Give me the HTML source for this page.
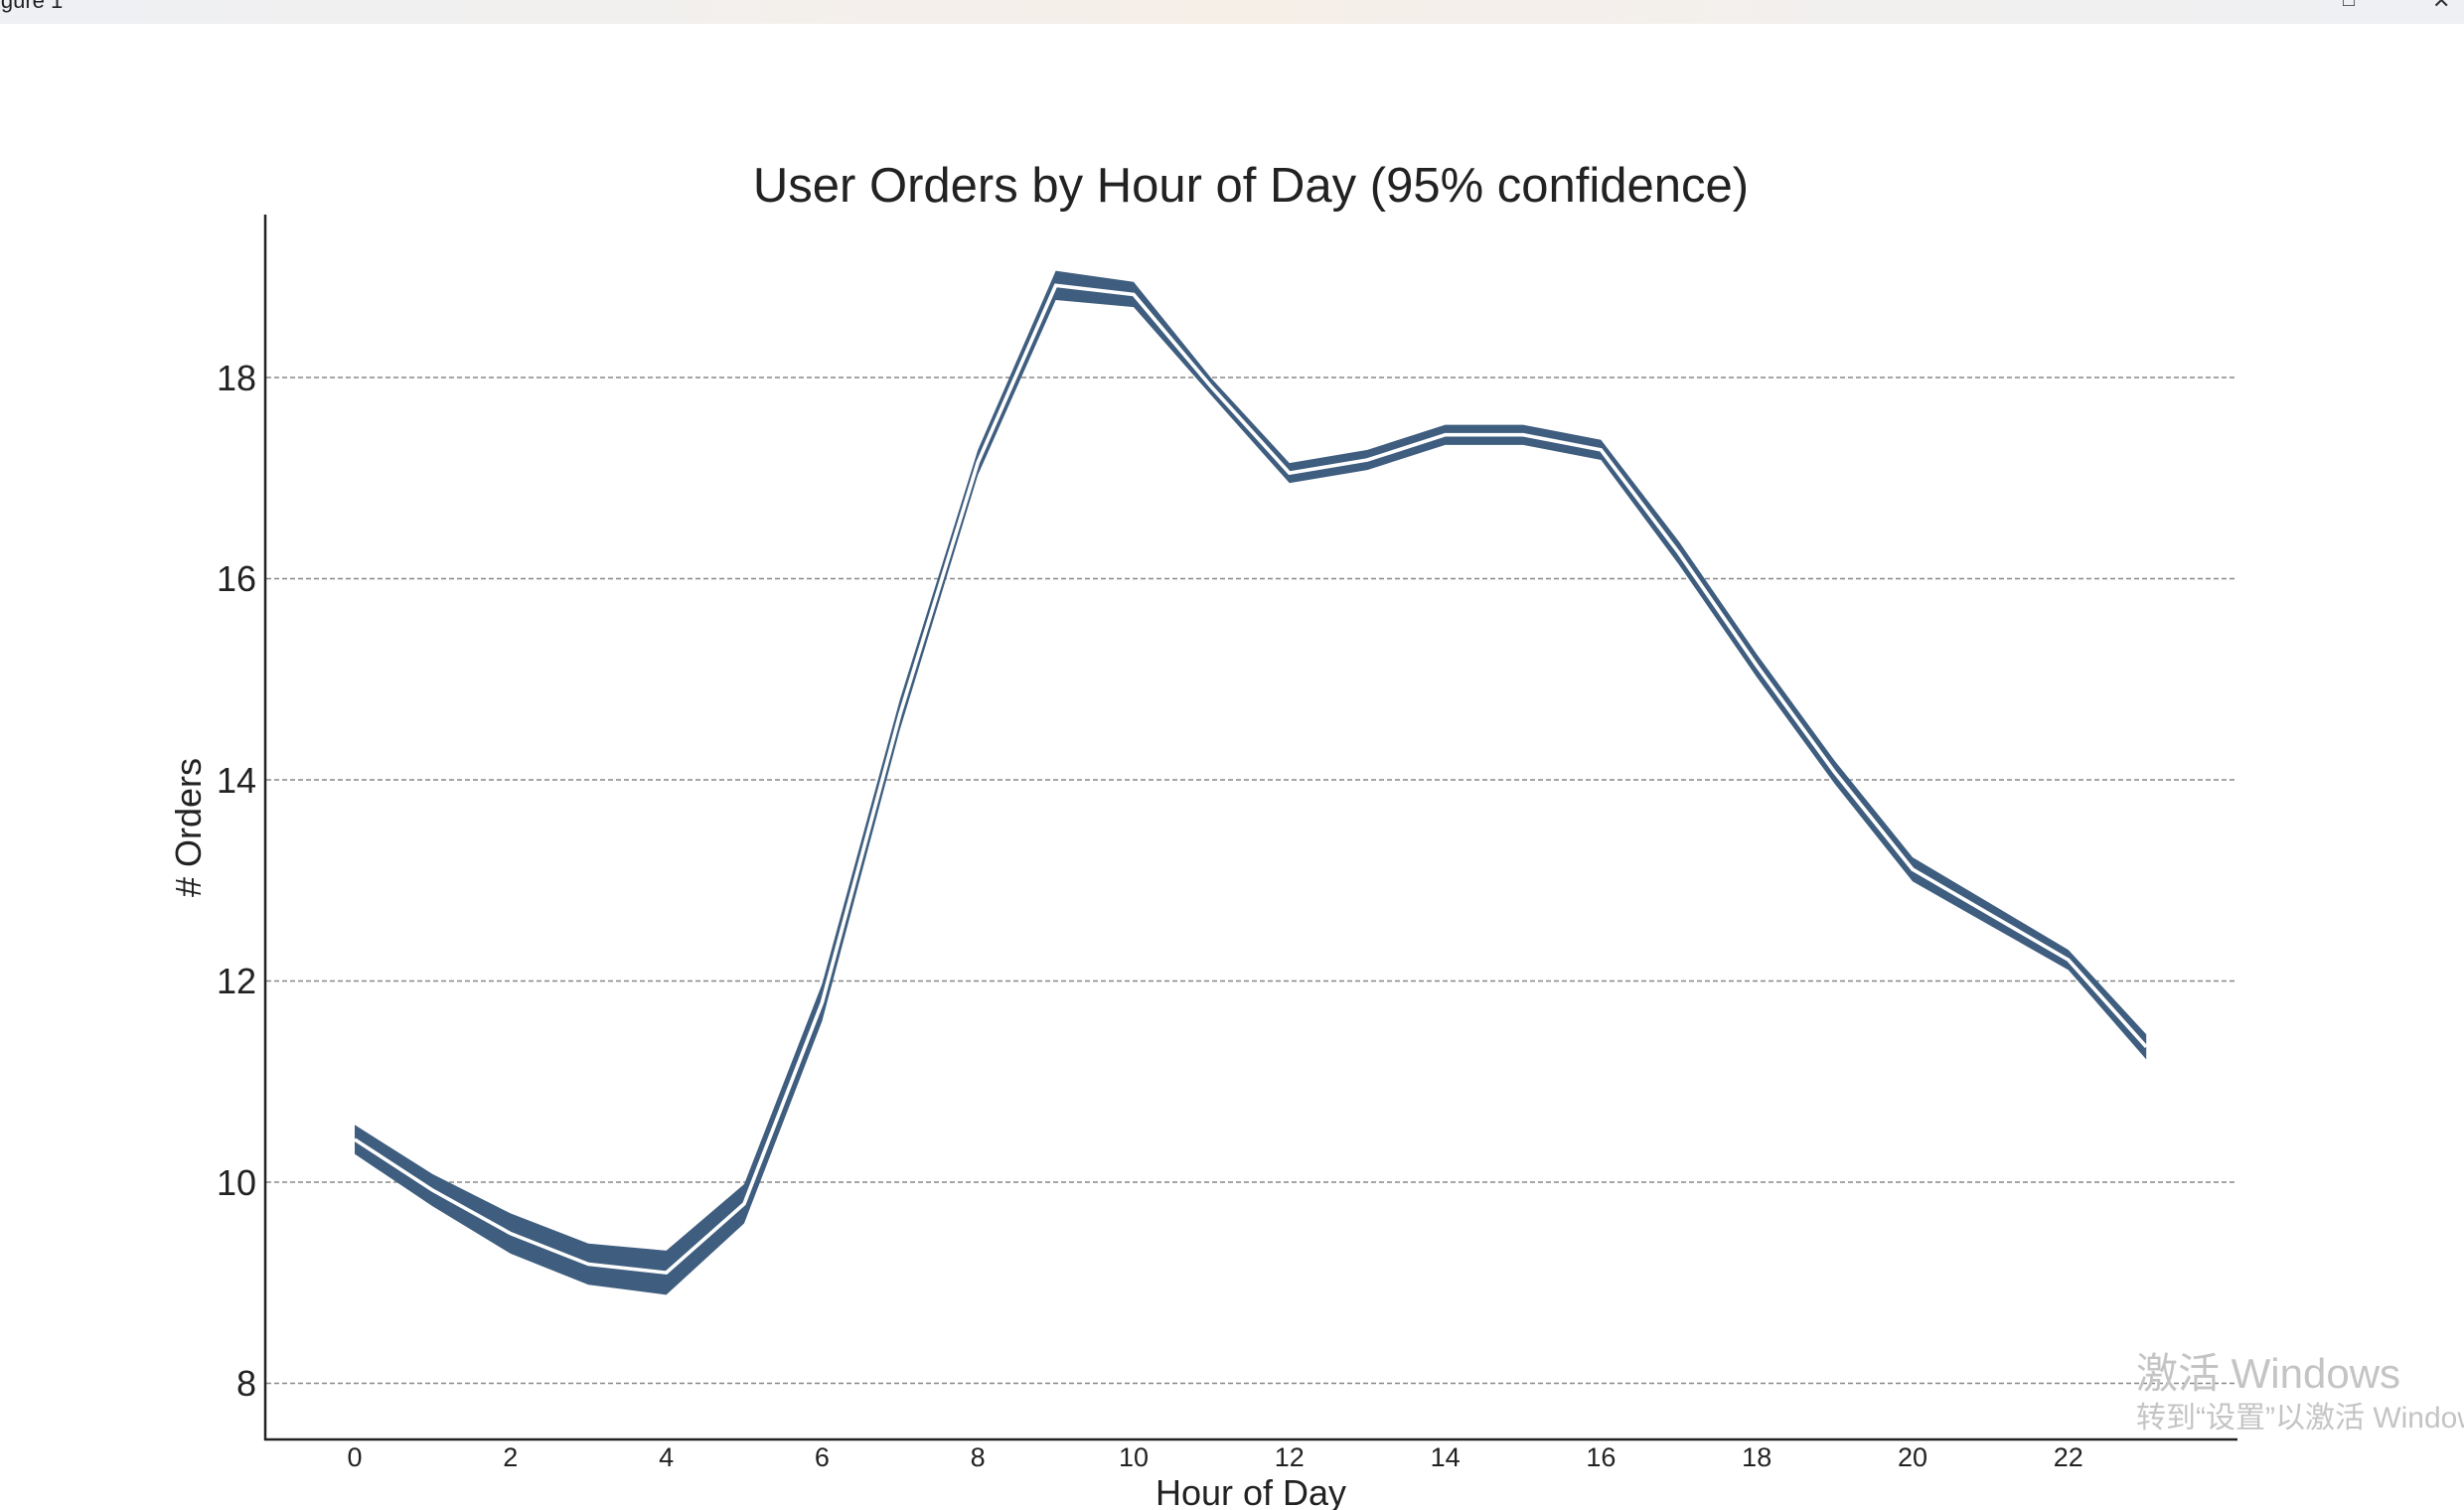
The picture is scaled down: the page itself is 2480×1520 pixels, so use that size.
<!DOCTYPE html>
<html><head><meta charset="utf-8"><style>
html,body{margin:0;padding:0;background:#fff;}
body{width:2480px;height:1520px;overflow:hidden;position:relative;}
</style></head><body>
<svg width="2480" height="1520" xmlns="http://www.w3.org/2000/svg" style="position:absolute;left:0;top:0">
<defs><linearGradient id="tb" x1="0" x2="1"><stop offset="0" stop-color="#eef0f4"/><stop offset="0.5" stop-color="#f6efe8"/><stop offset="1" stop-color="#eef0f4"/></linearGradient></defs>
<rect x="0" y="0" width="2480" height="24" fill="url(#tb)"/>
<text x="-4" y="8" font-family="Liberation Sans, sans-serif" font-size="22" fill="#222">igure 1</text>
<text x="2358" y="6" font-family="Liberation Sans, sans-serif" font-size="20" fill="#333">□</text>
<text x="2448" y="8" font-family="Liberation Sans, sans-serif" font-size="22" fill="#333">✕</text>
<g stroke="#888" stroke-width="1.5" stroke-dasharray="5 3">
<line x1="268" x2="2251" y1="1392.5" y2="1392.5"/>
<line x1="268" x2="2251" y1="1190" y2="1190"/>
<line x1="268" x2="2251" y1="987.5" y2="987.5"/>
<line x1="268" x2="2251" y1="785" y2="785"/>
<line x1="268" x2="2251" y1="582.5" y2="582.5"/>
<line x1="268" x2="2251" y1="380" y2="380"/>
</g>
<g transform="translate(357 2202.5) scale(78.4 -101.25)">
<polygon fill="#3f5e7f" points="0,10.57 1,10.08 2,9.69 3,9.39 4,9.32 5,9.98 6,11.97 7,14.80 8,17.28 9,19.06 10,18.95 11,17.99 12,17.15 13,17.28 14,17.53 15,17.53 16,17.38 17,16.37 18,15.25 19,14.19 20,13.23 21,12.77 22,12.31 23,11.47 23,11.22 22,12.11 21,12.55 20,12.99 19,13.96 18,15.02 17,16.14 16,17.18 15,17.33 14,17.33 13,17.08 12,16.95 11,17.82 10,18.70 9,18.77 8,17.03 7,14.50 6,11.60 5,9.59 4,8.88 3,8.98 2,9.29 1,9.76 0,10.28"/>
<polyline fill="none" stroke="#fff" stroke-width="3.6" vector-effect="non-scaling-stroke" points="0,10.425 1,9.92 2,9.49 3,9.185 4,9.10 5,9.785 6,11.785 7,14.65 8,17.155 9,18.915 10,18.825 11,17.905 12,17.05 13,17.18 14,17.43 15,17.43 16,17.28 17,16.255 18,15.135 19,14.075 20,13.11 21,12.66 22,12.21 23,11.345"/>
</g>
<line x1="267" y1="216" x2="267" y2="1450" stroke="#222" stroke-width="2.5"/>
<line x1="266" y1="1449" x2="2252" y2="1449" stroke="#222" stroke-width="2.5"/>
<g font-family="Liberation Sans, sans-serif" font-size="36" fill="#222" text-anchor="end">
<text x="258" y="1405">8</text>
<text x="258" y="1203">10</text>
<text x="258" y="1000">12</text>
<text x="258" y="798">14</text>
<text x="258" y="595">16</text>
<text x="258" y="393">18</text>
</g>
<g font-family="Liberation Sans, sans-serif" font-size="27" fill="#222" text-anchor="middle">
<text x="357" y="1476">0</text>
<text x="513.8" y="1476">2</text>
<text x="670.6" y="1476">4</text>
<text x="827.4" y="1476">6</text>
<text x="984.2" y="1476">8</text>
<text x="1141" y="1476">10</text>
<text x="1297.8" y="1476">12</text>
<text x="1454.6" y="1476">14</text>
<text x="1611.4" y="1476">16</text>
<text x="1768.2" y="1476">18</text>
<text x="1925" y="1476">20</text>
<text x="2081.8" y="1476">22</text>
</g>
<text x="1259" y="203" font-family="Liberation Sans, sans-serif" font-size="49" fill="#222" text-anchor="middle">User Orders by Hour of Day (95% confidence)</text>
<text x="1259" y="1515" font-family="Liberation Sans, sans-serif" font-size="36" fill="#222" text-anchor="middle">Hour of Day</text>
<text transform="translate(202 833) rotate(-90)" font-family="Liberation Sans, sans-serif" font-size="36" fill="#222" text-anchor="middle"># Orders</text>
<text x="2150" y="1397" font-family="Liberation Sans, 'Noto Sans CJK SC', sans-serif" font-size="42" fill="#c4c4c4">激活 Windows</text>
<text x="2150" y="1437" font-family="Liberation Sans, 'Noto Sans CJK SC', sans-serif" font-size="30" fill="#c4c4c4">转到“设置”以激活 Windows。</text>
</svg>
</body></html>
